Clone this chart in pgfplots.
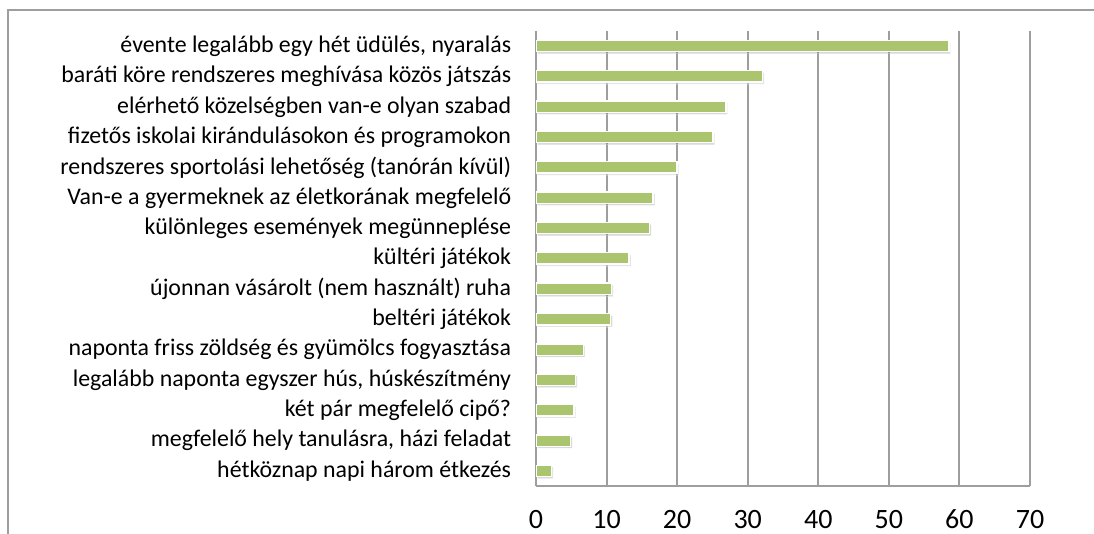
\documentclass[border=0pt]{standalone}
\usepackage{fontspec}
\setmainfont{Carlito}
\usepackage{pgfplots}
\pgfplotsset{compat=1.18}
\usetikzlibrary{shadows}
\definecolor{barfill}{RGB}{171,197,110}
\definecolor{gridgray}{RGB}{158,158,158}
\begin{document}
\begin{tikzpicture}
\useasboundingbox (0pt,0pt) rectangle (820.5pt,400.5pt);
\draw[gridgray, line width=1.2pt] (6pt,-2pt) -- (6pt,393pt) -- (823pt,393pt);
\begin{axis}[
  at={(402pt,36pt)}, anchor=south west,
  scale only axis, width=370.5pt, height=341.25pt,
  xmin=0, xmax=70, xtick={0,10,...,70},
  ymin=-0.5, ymax=14.5, y dir=reverse,
  ytick={0,...,14},
  yticklabels={
    {évente legalább egy hét üdülés, nyaralás},
    {baráti köre rendszeres meghívása közös játszás},
    {elérhető közelségben van-e olyan szabad},
    {fizetős iskolai kirándulásokon és programokon},
    {rendszeres sportolási lehetőség (tanórán kívül)},
    {Van-e a gyermeknek az életkorának megfelelő},
    {különleges események megünneplése},
    {kültéri játékok},
    {újonnan vásárolt (nem használt) ruha},
    {beltéri játékok},
    {naponta friss zöldség és gyümölcs fogyasztása},
    {legalább naponta egyszer hús, húskészítmény},
    {két pár megfelelő cipő?},
    {megfelelő hely tanulásra, házi feladat},
    {hétköznap napi három étkezés}},
  axis lines=left, axis line style={gridgray, line width=1.5pt, -},
  xmajorgrids, major grid style={gridgray, line width=1.5pt},
  major tick length=0pt,
  /pgf/number format/assume math mode=true,
  xticklabel style={font=\fontsize{21}{25}\selectfont, anchor=base, inner sep=0pt, yshift=-31.5pt},
  yticklabel style={font=\fontsize{17.9}{21}\selectfont, anchor=east, inner sep=0pt, xshift=-18.5pt},
  xbar, bar width=8.5pt,
]
\addplot[fill=barfill, draw=white, line width=1pt,
  drop shadow={shadow xshift=1.2pt, shadow yshift=-1.5pt, opacity=0.3, fill=gray}]
  coordinates {(58.5,0) (32.1,1) (26.9,2) (25.1,3) (20.0,4) (16.6,5) (16.1,6)
    (13.2,7) (10.7,8) (10.6,9) (6.7,10) (5.6,11) (5.4,12) (4.9,13) (2.2,14)};
\end{axis}
\end{tikzpicture}
\end{document}
